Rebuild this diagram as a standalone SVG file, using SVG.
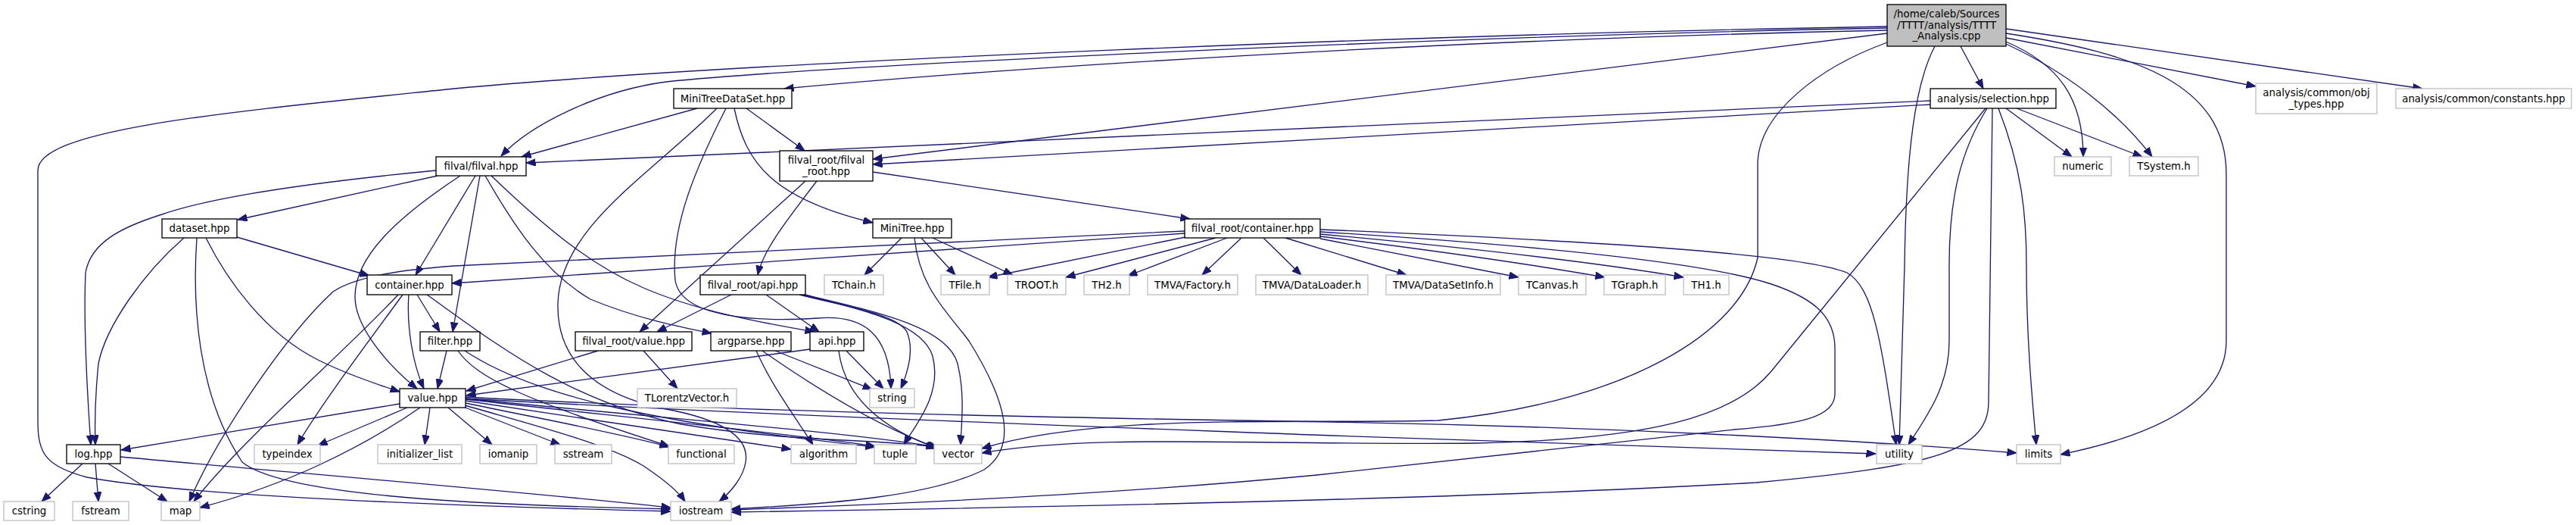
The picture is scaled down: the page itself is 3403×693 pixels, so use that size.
<svg xmlns="http://www.w3.org/2000/svg" width="3403" height="693" viewBox="0 0 3403 693">
<style>
.n{fill:#ffffff;stroke:#000000;stroke-width:1.33}
.u{fill:#ffffff;stroke:#bfbfbf;stroke-width:1.33}
.r{fill:#bfbfbf;stroke:#000000;stroke-width:1.33}
text{font-family:"DejaVu Sans","Liberation Sans",sans-serif;font-size:13.33px;fill:#000000;text-anchor:middle}
#edges path{fill:none;stroke:#191970;stroke-width:1.33;marker-end:url(#arr)}
</style>
<defs>
<marker id="arr" markerUnits="userSpaceOnUse" markerWidth="14" markerHeight="11" refX="12.5" refY="4.8" orient="auto">
<path d="M0,0 L12.5,4.8 L0,9.6 z" fill="#191970" stroke="#191970" stroke-width="1"/>
</marker>
</defs>
<rect width="3403" height="693" fill="#ffffff"/>
<g id="edges">
<path d="M2493,35 C1900,45 1000,80 600,117 C300,148 50,170 50,225 L50,557 C50,600 62,616 115,630 C250,655 600,668 886,675"/>
<path d="M2493,37 C1900,48 1100,86 880,108 C790,120 700,165 662,206"/>
<path d="M2493,40 C1900,52 1300,92 1036,117"/>
<path d="M2493,44 L1153,210"/>
<path d="M2590,61 L2620,117"/>
<path d="M2650,50 L2980,114"/>
<path d="M2650,38 L3200,117"/>
<path d="M2650,55 C2720,85 2752,130 2752,207"/>
<path d="M2650,58 C2730,95 2800,150 2843,207"/>
<path d="M2650,44 C2820,70 2941,110 2941,230 L2941,450 C2941,540 2820,580 2722,600"/>
<path d="M2556,61 C2530,110 2518,200 2516,350 L2509,587"/>
<path d="M2493,56 C2400,90 2325,150 2322,213 L2322,340 C2300,440 2150,530 1900,555 C1700,560 1450,545 1297,592"/>
<path d="M2550,133 L695,215"/>
<path d="M2550,138 L1153,217"/>
<path d="M2623,143 L2340,490 C2290,550 2180,580 1950,585 C1650,588 1450,572 1297,598"/>
<path d="M2625,143 C2590,200 2575,260 2575,350 L2575,450 C2575,510 2545,550 2521,587"/>
<path d="M2632,143 L2627,530 C2627,595 2560,615 2320,637 C2000,655 1500,668 966,676"/>
<path d="M2640,143 C2670,220 2677,280 2677,350 C2677,450 2685,530 2690,587"/>
<path d="M2650,143 L2737,207"/>
<path d="M2664,143 L2830,207"/>
<path d="M921,143 L689,207"/>
<path d="M986,143 L1063,199"/>
<path d="M970,143 C985,215 1020,262 1153,294"/>
<path d="M959,143 C920,220 885,300 892,370 C900,420 1000,425 1080,420 C1140,415 1175,440 1177,513"/>
<path d="M947,143 C860,230 740,300 737,400 C735,470 780,520 880,540 C960,555 990,580 985,610 C982,630 965,650 950,662"/>
<path d="M1191,314 L1142,363"/>
<path d="M1208,314 C1215,380 1250,410 1280,450 C1330,530 1345,590 1300,620 C1230,655 1100,665 966,672"/>
<path d="M1217,314 L1262,363"/>
<path d="M1232,314 L1338,363"/>
<path d="M1064,239 L845,438"/>
<path d="M1079,239 C1040,290 1008,330 1001,363"/>
<path d="M1153,227 L1572,289"/>
<path d="M966,389 L868,438"/>
<path d="M1012,389 L1082,438"/>
<path d="M1056,389 C1120,405 1185,415 1198,438 C1208,462 1200,490 1190,513"/>
<path d="M1060,389 C1150,410 1220,430 1232,470 C1245,520 1210,560 1194,587"/>
<path d="M1063,389 C1160,412 1252,432 1265,480 C1275,520 1270,560 1269,587"/>
<path d="M1566,313 L1305,366"/>
<path d="M1606,314 L1408,366"/>
<path d="M1621,314 L1490,364"/>
<path d="M1640,314 L1588,363"/>
<path d="M1669,314 L1719,363"/>
<path d="M1698,314 L1858,363"/>
<path d="M1744,315 L2006,366"/>
<path d="M1744,312 C1850,325 2000,345 2120,366"/>
<path d="M1744,309 C1950,328 2100,345 2224,366"/>
<path d="M1744,306 C2000,322 2250,345 2340,375 C2400,395 2424,420 2424,460 L2424,520 C2424,550 2380,560 2291,567 L1740,627 C1500,650 1200,665 966,673"/>
<path d="M1744,303 C2100,318 2380,335 2440,360 C2475,380 2485,450 2505,587"/>
<path d="M1565,305 L600,351 C530,356 470,365 440,385 C380,440 290,570 250,662"/>
<path d="M1565,308 L597,374"/>
<path d="M526,389 C450,470 320,580 256,662"/>
<path d="M532,389 C480,460 420,540 393,587"/>
<path d="M540,389 C537,430 545,480 560,513"/>
<path d="M551,389 L581,438"/>
<path d="M564,389 C650,450 750,530 900,560 C1050,585 1150,578 1236,590"/>
<path d="M528,533 L160,594"/>
<path d="M538,538 L420,588"/>
<path d="M555,538 C480,590 380,640 264,670"/>
<path d="M568,538 L561,587"/>
<path d="M592,538 L650,587"/>
<path d="M612,537 L740,587"/>
<path d="M615,532 C700,550 820,572 884,590"/>
<path d="M614,535 C700,560 800,585 850,615 C880,635 897,650 905,662"/>
<path d="M615,529 C750,550 950,578 1045,593"/>
<path d="M615,527 C800,548 1050,573 1156,589"/>
<path d="M615,526 C850,550 1100,568 1238,590"/>
<path d="M615,524 C1000,545 1500,553 1760,557 C2100,563 2450,580 2664,598"/>
<path d="M615,526 C1000,548 1500,565 1760,575 C2050,585 2350,594 2478,599"/>
<path d="M590,463 L578,513"/>
<path d="M605,463 C630,500 700,530 884,589"/>
<path d="M614,463 C700,520 850,557 1156,590"/>
<path d="M999,463 C1020,510 1050,550 1074,587"/>
<path d="M1024,463 L1152,514"/>
<path d="M1007,463 C1060,500 1150,560 1238,591"/>
<path d="M1070,461 L616,522"/>
<path d="M1118,463 L1167,513"/>
<path d="M1108,463 C1115,520 1160,565 1240,592"/>
<path d="M790,463 L616,516"/>
<path d="M850,463 L895,513"/>
<path d="M243,314 C190,360 140,430 130,480 C125,530 125,560 126,587"/>
<path d="M260,314 C254,400 260,520 320,610 C380,660 700,668 886,672"/>
<path d="M272,314 C300,370 350,440 420,475 C460,495 500,508 528,517"/>
<path d="M313,313 L488,364"/>
<path d="M576,225 C420,240 280,260 214,283 C160,300 120,320 113,360 C110,430 116,530 120,587"/>
<path d="M578,232 L314,290"/>
<path d="M608,232 C520,290 470,340 469,390 C468,430 510,480 551,513"/>
<path d="M628,232 L549,363"/>
<path d="M634,232 L598,438"/>
<path d="M641,232 C680,300 720,360 780,395 C840,420 900,432 940,440"/>
<path d="M649,232 C720,300 780,350 850,380 C920,410 1000,425 1076,438"/>
<path d="M109,612 L55,662"/>
<path d="M126,612 L130,662"/>
<path d="M143,612 L221,662"/>
<path d="M159,603 C400,625 700,650 886,670"/>
</g>
<g id="node-root"><rect class="r" x="2493" y="6" width="157" height="55"/><text x="2571.5" y="23">/home/caleb/Sources</text><text x="2571.5" y="37.5">/TTTT/analysis/TTTT</text><text x="2571.5" y="52">_Analysis.cpp</text></g>
<g id="node-minitreedataset"><rect class="n" x="890" y="117" width="156" height="26"/><text x="968" y="135">MiniTreeDataSet.hpp</text></g>
<g id="node-selection"><rect class="n" x="2550" y="117" width="166" height="26"/><text x="2633" y="135">analysis/selection.hpp</text></g>
<g id="node-obj-types"><rect class="u" x="2980" y="110" width="160" height="40"/><text x="3060" y="127">analysis/common/obj</text><text x="3060" y="141.5">_types.hpp</text></g>
<g id="node-constants"><rect class="u" x="3165" y="117" width="232" height="26"/><text x="3281" y="135">analysis/common/constants.hpp</text></g>
<g id="node-filval"><rect class="n" x="576" y="207" width="119" height="25"/><text x="635.5" y="224">filval/filval.hpp</text></g>
<g id="node-filval-root"><rect class="n" x="1030" y="199" width="123" height="40"/><text x="1091.5" y="216">filval_root/filval</text><text x="1091.5" y="230.5">_root.hpp</text></g>
<g id="node-numeric"><rect class="u" x="2714" y="207" width="75" height="25"/><text x="2751.5" y="224">numeric</text></g>
<g id="node-tsystem"><rect class="u" x="2813" y="207" width="91" height="25"/><text x="2858.5" y="224">TSystem.h</text></g>
<g id="node-dataset"><rect class="n" x="214" y="289" width="99" height="25"/><text x="263.5" y="306">dataset.hpp</text></g>
<g id="node-minitree"><rect class="n" x="1153" y="289" width="104" height="25"/><text x="1205" y="306">MiniTree.hpp</text></g>
<g id="node-root-container"><rect class="n" x="1565" y="289" width="179" height="25"/><text x="1654.5" y="306">filval_root/container.hpp</text></g>
<g id="node-container"><rect class="n" x="485" y="363" width="112" height="26"/><text x="541" y="380.5">container.hpp</text></g>
<g id="node-root-api"><rect class="n" x="925" y="363" width="139" height="26"/><text x="994.5" y="380.5">filval_root/api.hpp</text></g>
<g id="node-tchain"><rect class="u" x="1089" y="363" width="78" height="26"/><text x="1128" y="380.5">TChain.h</text></g>
<g id="node-tfile"><rect class="u" x="1243" y="363" width="64" height="26"/><text x="1275" y="380.5">TFile.h</text></g>
<g id="node-troot"><rect class="u" x="1331" y="363" width="77" height="26"/><text x="1369.5" y="380.5">TROOT.h</text></g>
<g id="node-th2"><rect class="u" x="1432" y="363" width="60" height="26"/><text x="1462" y="380.5">TH2.h</text></g>
<g id="node-factory"><rect class="u" x="1516" y="363" width="119" height="26"/><text x="1575.5" y="380.5">TMVA/Factory.h</text></g>
<g id="node-dataloader"><rect class="u" x="1659" y="363" width="148" height="26"/><text x="1733" y="380.5">TMVA/DataLoader.h</text></g>
<g id="node-datasetinfo"><rect class="u" x="1831" y="363" width="151" height="26"/><text x="1906.5" y="380.5">TMVA/DataSetInfo.h</text></g>
<g id="node-tcanvas"><rect class="u" x="2006" y="363" width="89" height="26"/><text x="2050.5" y="380.5">TCanvas.h</text></g>
<g id="node-tgraph"><rect class="u" x="2119" y="363" width="81" height="26"/><text x="2159.5" y="380.5">TGraph.h</text></g>
<g id="node-th1"><rect class="u" x="2224" y="363" width="60" height="26"/><text x="2254" y="380.5">TH1.h</text></g>
<g id="node-filter"><rect class="n" x="555" y="438" width="79" height="25"/><text x="594.5" y="455">filter.hpp</text></g>
<g id="node-root-value"><rect class="n" x="760" y="438" width="154" height="25"/><text x="837" y="455">filval_root/value.hpp</text></g>
<g id="node-argparse"><rect class="n" x="939" y="438" width="106" height="25"/><text x="992" y="455">argparse.hpp</text></g>
<g id="node-api"><rect class="n" x="1070" y="438" width="71" height="25"/><text x="1105.5" y="455">api.hpp</text></g>
<g id="node-value"><rect class="n" x="528" y="513" width="87" height="25"/><text x="571.5" y="530">value.hpp</text></g>
<g id="node-tlorentz"><rect class="u" x="842" y="513" width="131" height="25"/><text x="907.5" y="530">TLorentzVector.h</text></g>
<g id="node-string"><rect class="u" x="1149" y="513" width="59" height="25"/><text x="1178.5" y="530">string</text></g>
<g id="node-log"><rect class="n" x="88" y="587" width="71" height="25"/><text x="123.5" y="604">log.hpp</text></g>
<g id="node-typeindex"><rect class="u" x="336" y="587" width="87" height="25"/><text x="379.5" y="604">typeindex</text></g>
<g id="node-initializer-list"><rect class="u" x="499" y="587" width="111" height="25"/><text x="554.5" y="604">initializer_list</text></g>
<g id="node-iomanip"><rect class="u" x="634" y="587" width="75" height="25"/><text x="671.5" y="604">iomanip</text></g>
<g id="node-sstream"><rect class="u" x="733" y="587" width="75" height="25"/><text x="770.5" y="604">sstream</text></g>
<g id="node-functional"><rect class="u" x="883" y="587" width="87" height="25"/><text x="926.5" y="604">functional</text></g>
<g id="node-algorithm"><rect class="u" x="1045" y="587" width="86" height="25"/><text x="1088" y="604">algorithm</text></g>
<g id="node-tuple"><rect class="u" x="1155" y="587" width="55" height="25"/><text x="1182.5" y="604">tuple</text></g>
<g id="node-vector"><rect class="u" x="1234" y="587" width="63" height="25"/><text x="1265.5" y="604">vector</text></g>
<g id="node-utility"><rect class="u" x="2479" y="587" width="60" height="25"/><text x="2509" y="604">utility</text></g>
<g id="node-limits"><rect class="u" x="2664" y="587" width="58" height="25"/><text x="2693" y="604">limits</text></g>
<g id="node-cstring"><rect class="u" x="5" y="662" width="67" height="25"/><text x="38.5" y="679">cstring</text></g>
<g id="node-fstream"><rect class="u" x="96" y="662" width="74" height="25"/><text x="133" y="679">fstream</text></g>
<g id="node-map"><rect class="u" x="213" y="662" width="51" height="25"/><text x="238.5" y="679">map</text></g>
<g id="node-iostream"><rect class="u" x="886" y="662" width="80" height="25"/><text x="926" y="679">iostream</text></g>
</svg>
